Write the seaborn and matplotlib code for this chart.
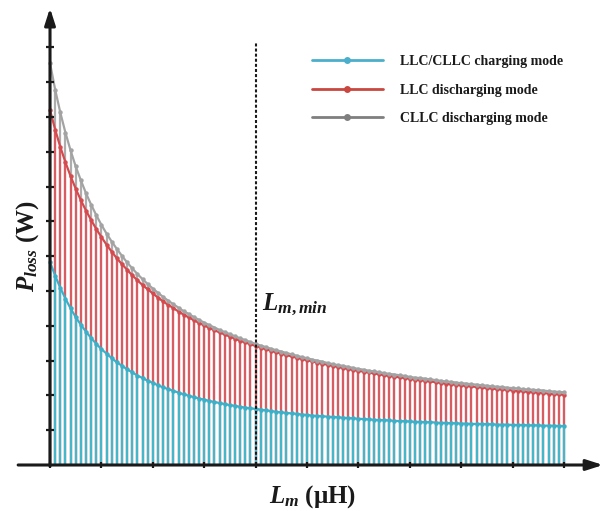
import numpy as np
import pandas as pd
import matplotlib
matplotlib.use("Agg")
import matplotlib.pyplot as plt
import seaborn as sns
from matplotlib.lines import Line2D

# ---------------- data ----------------
lm = np.round(np.arange(101) * 0.1, 1)  # Lm axis positions (arbitrary units, 0..10)

p_charge = [5.83, 5.44, 5.09, 4.78, 4.50, 4.25, 4.03, 3.83, 3.65, 3.48,
            3.33, 3.20, 3.07, 2.95, 2.85, 2.75, 2.66, 2.57, 2.50, 2.42,
            2.36, 2.29, 2.23, 2.18, 2.13, 2.08, 2.03, 1.99, 1.95, 1.91,
            1.88, 1.84, 1.81, 1.78, 1.75, 1.72, 1.70, 1.67, 1.65, 1.63,
            1.61, 1.59, 1.57, 1.55, 1.53, 1.51, 1.50, 1.48, 1.47, 1.45,
            1.44, 1.42, 1.41, 1.40, 1.39, 1.38, 1.37, 1.36, 1.35, 1.34,
            1.33, 1.32, 1.31, 1.30, 1.29, 1.29, 1.28, 1.27, 1.26, 1.26,
            1.25, 1.24, 1.24, 1.23, 1.23, 1.22, 1.21, 1.21, 1.20, 1.20,
            1.19, 1.19, 1.18, 1.18, 1.18, 1.17, 1.17, 1.16, 1.16, 1.16,
            1.15, 1.15, 1.15, 1.14, 1.14, 1.14, 1.13, 1.13, 1.13, 1.12,
            1.12]

p_llc_dis = [10.20, 9.64, 9.14, 8.70, 8.30, 7.94, 7.61, 7.31, 7.04, 6.78,
             6.55, 6.33, 6.13, 5.94, 5.77, 5.61, 5.45, 5.31, 5.17, 5.05,
             4.93, 4.81, 4.70, 4.60, 4.51, 4.41, 4.32, 4.24, 4.16, 4.08,
             4.01, 3.94, 3.87, 3.81, 3.75, 3.69, 3.63, 3.57, 3.52, 3.47,
             3.42, 3.37, 3.33, 3.28, 3.24, 3.20, 3.16, 3.12, 3.08, 3.05,
             3.01, 2.98, 2.94, 2.91, 2.88, 2.85, 2.82, 2.79, 2.76, 2.73,
             2.71, 2.68, 2.66, 2.63, 2.61, 2.58, 2.56, 2.54, 2.52, 2.50,
             2.48, 2.45, 2.44, 2.42, 2.40, 2.38, 2.36, 2.34, 2.32, 2.31,
             2.29, 2.27, 2.26, 2.24, 2.23, 2.21, 2.20, 2.18, 2.17, 2.16,
             2.14, 2.13, 2.12, 2.10, 2.09, 2.08, 2.07, 2.05, 2.04, 2.03,
             2.02]

p_cllc_dis = [11.55, 10.79, 10.13, 9.55, 9.04, 8.58, 8.18, 7.81, 7.48, 7.18,
              6.90, 6.65, 6.42, 6.21, 6.01, 5.82, 5.65, 5.49, 5.34, 5.20,
              5.07, 4.95, 4.83, 4.72, 4.62, 4.52, 4.42, 4.34, 4.25, 4.17,
              4.09, 4.02, 3.95, 3.88, 3.82, 3.76, 3.70, 3.64, 3.59, 3.53,
              3.48, 3.43, 3.39, 3.34, 3.30, 3.26, 3.22, 3.18, 3.14, 3.10,
              3.07, 3.03, 3.00, 2.97, 2.93, 2.90, 2.87, 2.85, 2.82, 2.79,
              2.76, 2.74, 2.71, 2.69, 2.67, 2.64, 2.62, 2.60, 2.58, 2.56,
              2.53, 2.51, 2.50, 2.48, 2.46, 2.44, 2.42, 2.40, 2.39, 2.37,
              2.35, 2.34, 2.32, 2.31, 2.29, 2.28, 2.26, 2.25, 2.24, 2.22,
              2.21, 2.20, 2.18, 2.17, 2.16, 2.15, 2.14, 2.12, 2.11, 2.10,
              2.09]

modes = ["LLC/CLLC charging mode", "LLC discharging mode", "CLLC discharging mode"]
x_ticks = [0, 1, 2, 3, 4, 5, 6, 7, 8, 9, 10]
y_ticks = [1, 2, 3, 4, 5, 6, 7, 8, 9, 10, 11, 12]
lm_min = 4

# ---------------- style ----------------
sns.set_theme(style="white")
plt.rcParams["font.family"] = ["Liberation Serif", "DejaVu Serif"]
plt.rcParams["font.weight"] = "bold"
plt.rcParams["text.color"] = "black"
plt.rcParams["mathtext.fontset"] = "custom"
plt.rcParams["mathtext.it"] = "Liberation Serif:italic:bold"
plt.rcParams["mathtext.rm"] = "Liberation Serif:bold"
plt.rcParams["mathtext.bf"] = "Liberation Serif:bold"

line_cols = {"LLC/CLLC charging mode": "#3BB0C9",
             "LLC discharging mode": "#D44A4E",
             "CLLC discharging mode": "#A3A3A3"}
stem_cols = ["#45B7CB", "#DA5C63", "#ADADAD"]
leg_cols = ["#4AAFCB", "#C9473F", "#7F7F7F"]

df = pd.concat([
    pd.DataFrame({"Lm": lm, "P": vals, "mode": m})
    for m, vals in zip(modes, [p_charge, p_llc_dis, p_cllc_dis])
], ignore_index=True)

fig = plt.figure(figsize=(6.10, 5.11), dpi=100)
ax = fig.add_axes([0, 0, 1, 1])
ax.set_xlim(-0.973, 10.895)
ax.set_ylim(-1.322, 13.362)
ax.axis("off")

# stems: gray behind, red, then blue in front
ax.vlines(lm, 0, p_cllc_dis, colors=stem_cols[2], lw=1.6, zorder=1)
ax.vlines(lm, 0, p_llc_dis, colors=stem_cols[1], lw=1.6, zorder=2)
ax.vlines(lm, 0, p_charge, colors=stem_cols[0], lw=1.6, zorder=3)

sns.lineplot(data=df, x="Lm", y="P", hue="mode", hue_order=modes,
             palette=line_cols, marker="o", markersize=3.2,
             markeredgewidth=0, linewidth=1.6, legend=False,
             errorbar=None, sort=False, ax=ax, zorder=5)

# dashed Lm,min line
ax.vlines(lm_min, 0, 12.13, colors="k", lw=1.5,
          linestyles=(0, (1.45, 1.0)), zorder=6)

# axes with arrows
arrow = dict(arrowstyle="-|>,head_length=1.0,head_width=0.32", lw=2.2,
             color="k", mutation_scale=10, shrinkA=0, shrinkB=0)
ax.annotate("", xy=(10.76, 0), xytext=(-0.62, 0), arrowprops=arrow, zorder=10)
ax.annotate("", xy=(0, 13.13), xytext=(0, -0.03), arrowprops=arrow, zorder=10)
ax.plot(x_ticks, [0] * len(x_ticks), ls="none", marker="|", ms=4.5,
        mew=1.6, color="k", zorder=11)
ax.plot([0] * len(y_ticks), y_ticks, ls="none", marker="_", ms=5.5,
        mew=1.6, color="k", zorder=11)

# texts
ax.text(4.12, 4.45, r"$L_{m,min}$", fontsize=18, ha="left", va="baseline",
        color="k", zorder=12)
ax.text(5.1, -1.09, r"$L_m$ (μH)", fontsize=18, ha="center", va="baseline",
        color="k")
ax.text(-0.44, 6.3, r"$P_{loss}$ (W)", fontsize=18, rotation=90,
        ha="center", va="center", color="k")

# legend
handles = [Line2D([], [], color=c, lw=2.0, marker="o", ms=5, mew=0)
           for c in leg_cols]
leg = fig.legend(handles, modes, loc="upper left",
                 bbox_to_anchor=(312 / 610, 1 - 55 / 511),
                 bbox_transform=fig.transFigure,
                 frameon=False, borderpad=0, borderaxespad=0, handlelength=5.1,
                 handletextpad=1.2, labelspacing=1.12, numpoints=1,
                 prop=dict(family="Liberation Serif", weight="bold", size=10))
for t in leg.get_texts():
    t.set_color("k")

fig.savefig("out.png", dpi=100)
